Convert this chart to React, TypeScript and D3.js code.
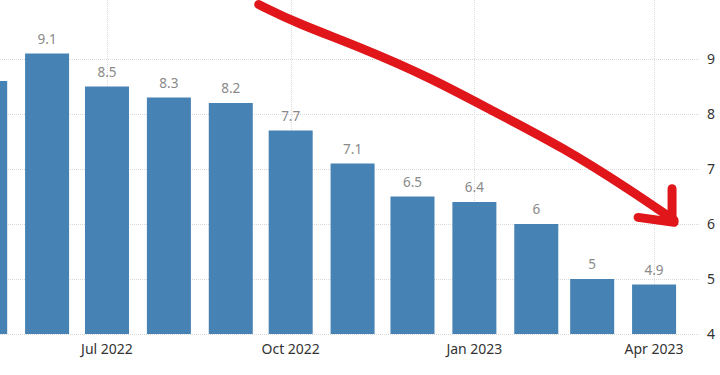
import React, { useEffect, useRef } from "react";
import * as d3 from "d3";

// US CPI, annual rate (%), month by month
const months = [
  "2022-05", "2022-06", "2022-07", "2022-08", "2022-09", "2022-10",
  "2022-11", "2022-12", "2023-01", "2023-02", "2023-03", "2023-04",
];
const values = [8.6, 9.1, 8.5, 8.3, 8.2, 7.7, 7.1, 6.5, 6.4, 6.0, 5.0, 4.9];
const quarterTicks = ["2022-07", "2022-10", "2023-01", "2023-04"];
const yTicks = [4, 5, 6, 7, 8, 9];

// hand drawn red arrow, given as [day, value] so it follows the scales
const arrowLine: [string, number][] = [
  ["2022-09-15", 9.99], ["2022-10-04", 9.65], ["2022-11-06", 9.2],
  ["2022-12-10", 8.66], ["2023-01-12", 8.02], ["2023-02-14", 7.4],
  ["2023-03-20", 6.62], ["2023-04-11", 6.07],
];
const arrowHeadA: [string, number][] = [["2023-04-10", 6.64], ["2023-04-10", 6.08]];
const arrowHeadB: [string, number][] = [["2023-03-24", 6.12], ["2023-04-11", 6.03]];

const W = 720;
const H = 375;

const parse = d3.timeParse("%Y-%m");
const parseDay = d3.timeParse("%Y-%m-%d");

const App: React.FC = () => {
  const svgRef = useRef<SVGSVGElement | null>(null);

  useEffect(() => {
    const svg = d3.select(svgRef.current);
    svg.selectAll("*").remove();

    const x = d3
      .scaleTime()
      .domain([new Date(2022, 4, 8, 10), new Date(2023, 3, 24)])
      .range([0, 700]);
    const y = d3.scaleLinear().domain([4, 10]).range([334, 4]);
    const barW = 44;
    const font = "'Noto Sans', 'Open Sans', sans-serif";

    // horizontal dotted grid
    svg
      .append("g")
      .selectAll("line")
      .data(yTicks)
      .enter()
      .append("line")
      .attr("x1", 0)
      .attr("x2", 700)
      .attr("y1", (d) => y(d) + 0.5)
      .attr("y2", (d) => y(d) + 0.5)
      .attr("stroke", "#d9d9d9")
      .attr("stroke-dasharray", "1,1");

    // vertical dotted grid at quarter labels
    svg
      .append("g")
      .selectAll("line")
      .data(quarterTicks)
      .enter()
      .append("line")
      .attr("x1", (d) => Math.round(x(parse(d)!)) + 0.5)
      .attr("x2", (d) => Math.round(x(parse(d)!)) + 0.5)
      .attr("y1", 0)
      .attr("y2", y(4))
      .attr("stroke", "#dcdcdc")
      .attr("stroke-dasharray", "1,1");

    // bars
    svg
      .append("g")
      .selectAll("rect")
      .data(values)
      .enter()
      .append("rect")
      .attr("x", (d, i) => x(parse(months[i])!) - barW / 2)
      .attr("y", (d) => y(d))
      .attr("width", barW)
      .attr("height", (d) => y(4) - y(d))
      .attr("fill", "#4682b4");

    // value labels (the first bar is cut by the frame, so is its label)
    svg
      .append("g")
      .selectAll("text")
      .data(values.map((v, i) => ({ v, m: months[i] })).filter((d) => x(parse(d.m)!) > 10))
      .enter()
      .append("text")
      .attr("x", (d) => x(parse(d.m)!))
      .attr("y", (d) => y(d.v) - 10)
      .attr("text-anchor", "middle")
      .attr("font-family", font)
      .attr("font-size", 13.5)
      .attr("fill", "#8a8a8a")
      .text((d) => String(d.v));

    // x labels
    svg
      .append("g")
      .selectAll("text")
      .data(quarterTicks)
      .enter()
      .append("text")
      .attr("x", (d) => x(parse(d)!))
      .attr("y", 354)
      .attr("text-anchor", "middle")
      .attr("font-family", font)
      .attr("font-size", 14)
      .attr("fill", "#333")
      .text((d) => d3.timeFormat("%b %Y")(parse(d)!));

    // y labels on the right
    svg
      .append("g")
      .selectAll("text")
      .data(yTicks)
      .enter()
      .append("text")
      .attr("x", 707)
      .attr("y", (d) => y(d) + 5)
      .attr("font-family", font)
      .attr("font-size", 14)
      .attr("fill", "#333")
      .text((d) => String(d));

    // red annotation arrow
    const line = d3
      .line<[string, number]>()
      .x((d) => x(parseDay(d[0])!))
      .y((d) => y(d[1]))
      .curve(d3.curveBasis);
    [arrowLine, arrowHeadA, arrowHeadB].forEach((pts) => {
      svg
        .append("path")
        .attr("d", line(pts)!)
        .attr("fill", "none")
        .attr("stroke", "#e0161b")
        .attr("stroke-width", 9)
        .attr("stroke-linecap", "round")
        .attr("stroke-linejoin", "round");
    });
  }, []);

  return (
    <svg
      ref={svgRef}
      width={W}
      height={H}
      style={{ position: "absolute", left: 0, top: 0, background: "#fff" }}
    />
  );
};

export default App;
